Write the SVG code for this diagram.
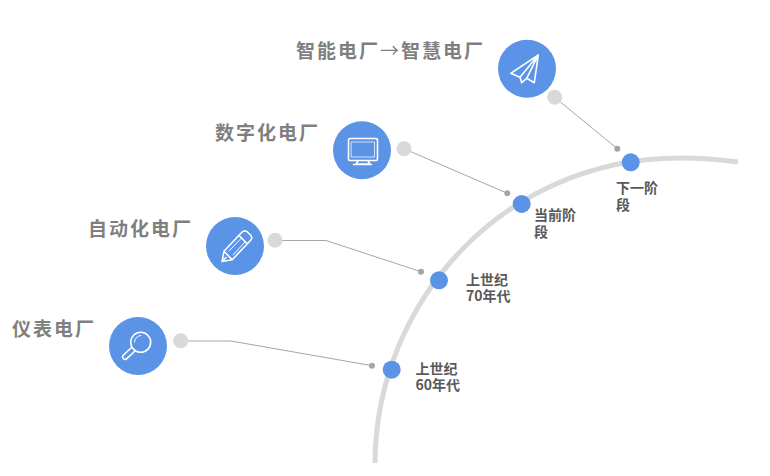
<svg xmlns="http://www.w3.org/2000/svg" width="770" height="476" viewBox="0 0 770 476">
<style>
text{font-family:"Noto Sans CJK SC","Liberation Sans",sans-serif;font-weight:700}
.t{font-size:19px;letter-spacing:2px;fill:#7f7f7f}
.a{font-weight:400}
.s{font-size:14px;fill:#595959}
.big{fill:#5b93e6}
.grey{fill:#d9d9d9}
.end{fill:#a6a6a6}
.blue{fill:#5b93e6}
.ln{fill:none;stroke:#a6a6a6;stroke-width:1}
.ic{fill:none;stroke:#fff;stroke-width:1.6;stroke-linejoin:round;stroke-linecap:round}
.th{stroke-width:1}
</style>
<rect width="770" height="476" fill="#fff"/>
<path id="arc" d="M375 463C376 300 505 158 680 158C700 158 720 159.500 738 162" fill="none" stroke="#d9d9d9" stroke-width="5"/>
<g id="connectors">
<path class="ln" d="M554.700 97.300L617.300 148.700"/>
<path class="ln" d="M404 148.700L507.300 193.300"/>
<path class="ln" d="M275 240.500H326L421 271.700"/>
<path class="ln" d="M180.700 341H231L372 365.700"/>
</g>
<g id="node-smart">
<text class="t" x="296" y="58">智能电厂<tspan class="a">→</tspan>智慧电厂</text>
<circle class="big" cx="527" cy="68.700" r="29"/>
<path class="ic" d="M538.300 55L510.700 73.300L520 77.300L521.700 82.700L526.700 78.300L534.300 82.700ZM538.300 55L520 77.300M538.300 55L526.700 78.300"/>
<circle class="grey" cx="554.700" cy="97.300" r="7.500"/>
<circle class="end" cx="617.300" cy="148.700" r="3"/>
<circle class="blue" cx="630.700" cy="162.300" r="9"/>
<text class="s" x="616" y="193">下一阶<tspan x="616" dy="17">段</tspan></text>
</g>
<g id="node-digital">
<text class="t" x="215" y="140">数字化电厂</text>
<circle class="big" cx="362" cy="150.300" r="29"/>
<rect class="ic" x="348.500" y="138.500" width="29" height="22" rx="1.500"/>
<rect class="ic th" x="351.500" y="142" width="23" height="15" opacity=".75"/>
<path class="ic" d="M358 161L356 164H370L368 161M353.500 164.500H371.500"/>
<circle class="grey" cx="404" cy="148.700" r="7.500"/>
<circle class="end" cx="507.300" cy="193.300" r="3"/>
<circle class="blue" cx="521.700" cy="204" r="9"/>
<text class="s" x="534" y="220">当前阶<tspan x="534" dy="17">段</tspan></text>
</g>
<g id="node-auto">
<text class="t" x="88" y="236">自动化电厂</text>
<circle class="big" cx="235" cy="246" r="29"/>
<path class="ic" d="M222 261.500L224 251.300L241.800 232.300Q245 229.500 248 232.500L250.500 235Q253.200 238 250.200 240.700L232.200 259.700ZM224 251.300L232.200 259.700M226 257.500L222 261.500M238.800 235.300L247.200 243.700"/>
<path class="ic th" d="M229 251L241 238.500M233 255L245 242"/>
<circle class="grey" cx="275" cy="240.300" r="7.500"/>
<circle class="end" cx="421" cy="271.700" r="3"/>
<circle class="blue" cx="439" cy="280.300" r="9"/>
<text class="s" x="466" y="285">上世纪<tspan x="466" dy="16">70年代</tspan></text>
</g>
<g id="node-meter">
<text class="t" x="12" y="336">仪表电厂</text>
<circle class="big" cx="138" cy="346" r="29"/>
<circle class="ic" cx="140.700" cy="342.300" r="10"/>
<path class="ic th" d="M134.500 342A6.500 6.500 0 0 1 141 335.500"/>
<path class="ic" d="M131.500 347.500L123 355.500Q121.800 357 123.300 358.700Q125 360.200 126.500 358.800L135 351"/>
<circle class="grey" cx="180.700" cy="340.700" r="7.500"/>
<circle class="end" cx="372" cy="365.700" r="3"/>
<circle class="blue" cx="391.700" cy="369.700" r="9"/>
<text class="s" x="415.500" y="374">上世纪<tspan x="415.500" dy="16">60年代</tspan></text>
</g>
</svg>
